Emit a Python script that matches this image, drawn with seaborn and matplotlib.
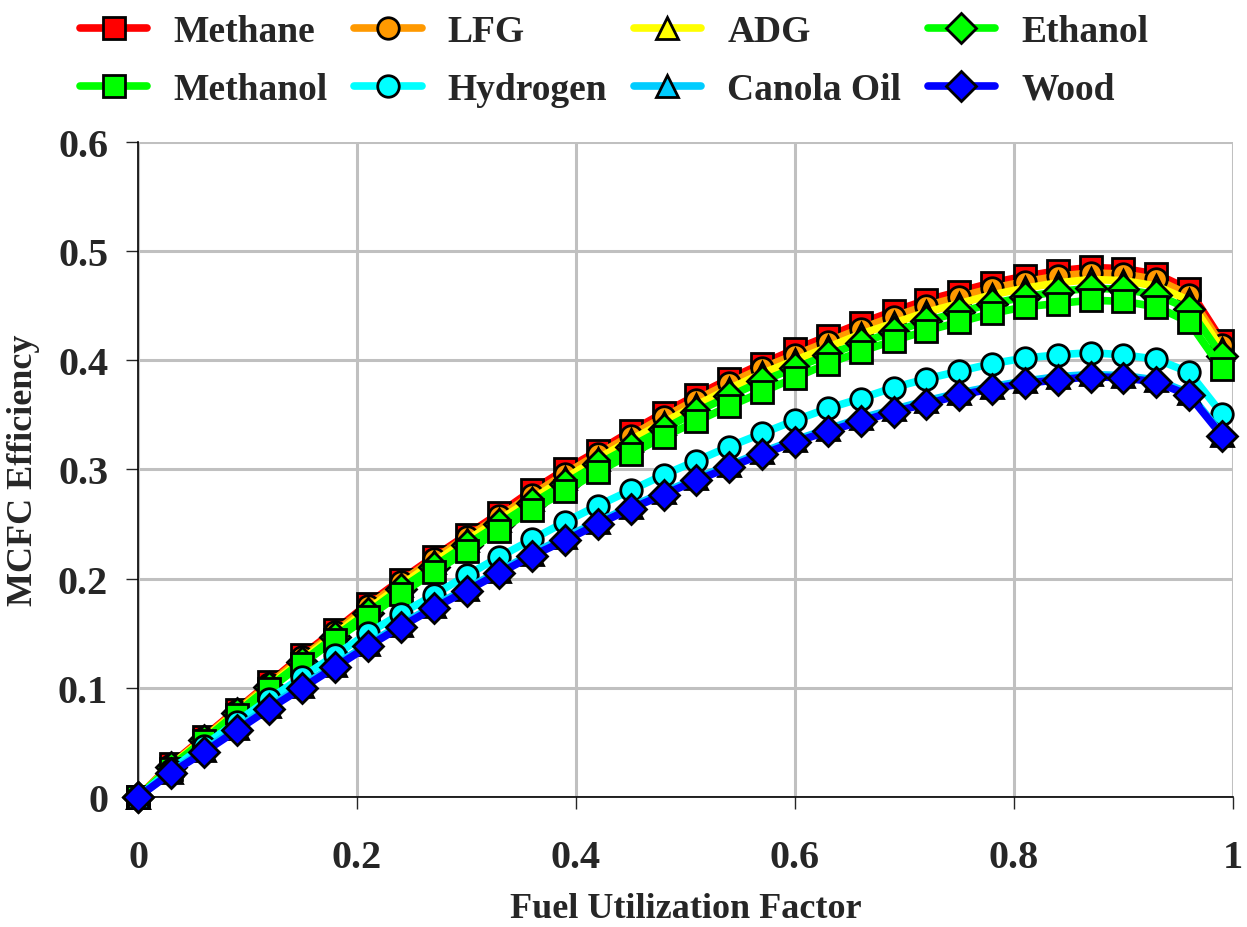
import pandas as pd
import seaborn as sns
import matplotlib.pyplot as plt

# fuel utilization factor (x axis)
utilization = [0.00, 0.03, 0.06, 0.09, 0.12, 0.15, 0.18, 0.21, 0.24, 0.27,
               0.30, 0.33, 0.36, 0.39, 0.42, 0.45, 0.48, 0.51, 0.54, 0.57,
               0.60, 0.63, 0.66, 0.69, 0.72, 0.75, 0.78, 0.81, 0.84, 0.87,
               0.90, 0.93, 0.96, 0.99]

# MCFC efficiency per fuel
methane = [0, 0.030, 0.055, 0.080, 0.105, 0.130, 0.153, 0.177, 0.199, 0.220,
           0.240, 0.260, 0.281, 0.300, 0.317, 0.335, 0.352, 0.368, 0.383, 0.397,
           0.410, 0.422, 0.434, 0.445, 0.455, 0.463, 0.471, 0.477, 0.482, 0.485,
           0.484, 0.479, 0.465, 0.418]
lfg = [0, 0.029, 0.054, 0.079, 0.104, 0.128, 0.151, 0.175, 0.197, 0.218,
       0.238, 0.257, 0.277, 0.296, 0.314, 0.331, 0.348, 0.364, 0.379, 0.393,
       0.405, 0.417, 0.429, 0.440, 0.450, 0.458, 0.466, 0.472, 0.477, 0.480,
       0.479, 0.474, 0.460, 0.414]
adg = [0, 0.029, 0.053, 0.078, 0.102, 0.126, 0.149, 0.172, 0.194, 0.215,
       0.235, 0.254, 0.273, 0.292, 0.310, 0.327, 0.343, 0.359, 0.374, 0.388,
       0.400, 0.412, 0.424, 0.434, 0.444, 0.452, 0.460, 0.466, 0.471, 0.474,
       0.473, 0.468, 0.455, 0.410]
ethanol = [0, 0.028, 0.052, 0.077, 0.101, 0.124, 0.147, 0.169, 0.191, 0.211,
           0.231, 0.250, 0.269, 0.287, 0.305, 0.321, 0.337, 0.353, 0.367, 0.381,
           0.393, 0.405, 0.416, 0.426, 0.436, 0.444, 0.452, 0.458, 0.463, 0.466,
           0.465, 0.460, 0.447, 0.404]
methanol = [0, 0.026, 0.051, 0.075, 0.099, 0.122, 0.144, 0.165, 0.186, 0.206,
            0.225, 0.244, 0.263, 0.280, 0.298, 0.314, 0.330, 0.344, 0.358, 0.371,
            0.384, 0.397, 0.408, 0.418, 0.427, 0.435, 0.443, 0.449, 0.452, 0.455,
            0.454, 0.449, 0.435, 0.392]
hydrogen = [0, 0.025, 0.047, 0.069, 0.090, 0.110, 0.130, 0.150, 0.168, 0.185,
            0.203, 0.220, 0.236, 0.252, 0.267, 0.281, 0.295, 0.308, 0.321, 0.333,
            0.345, 0.356, 0.365, 0.375, 0.383, 0.390, 0.397, 0.402, 0.405, 0.407,
            0.405, 0.401, 0.389, 0.351]
canola = [0, 0.023, 0.043, 0.063, 0.083, 0.102, 0.121, 0.140, 0.158, 0.175,
          0.191, 0.207, 0.223, 0.238, 0.252, 0.266, 0.279, 0.292, 0.304, 0.316,
          0.327, 0.337, 0.347, 0.355, 0.363, 0.370, 0.376, 0.381, 0.385, 0.387,
          0.386, 0.382, 0.370, 0.332]
wood = [0, 0.022, 0.041, 0.061, 0.081, 0.100, 0.119, 0.138, 0.156, 0.173,
        0.189, 0.205, 0.221, 0.235, 0.250, 0.264, 0.277, 0.290, 0.302, 0.314,
        0.325, 0.335, 0.344, 0.353, 0.360, 0.368, 0.374, 0.379, 0.382, 0.385,
        0.384, 0.380, 0.368, 0.331]

fuels = ['Methane', 'LFG', 'ADG', 'Ethanol', 'Methanol', 'Hydrogen', 'Canola Oil', 'Wood']
series = [methane, lfg, adg, ethanol, methanol, hydrogen, canola, wood]
colors = ['#FF0000', '#FF9900', '#FFFF00', '#00FF00', '#00FF00', '#00FFFF', '#00CCFF', '#0000FF']
markers = ['s', 'o', '^', 'D', 's', 'o', '^', 'D']

sns.set_style('white')
plt.rcParams['font.family'] = ['Liberation Serif', 'DejaVu Serif']
plt.rcParams['font.weight'] = 'bold'

fig = plt.figure(figsize=(12.47, 9.28), dpi=100)
ax = fig.add_axes([0.1107, 0.140, 0.878, 0.706])

for name, vals, col, mk in zip(fuels, series, colors, markers):
    df = pd.DataFrame({'x': utilization, 'y': vals})
    sns.lineplot(data=df, x='x', y='y', ax=ax, color=col, linewidth=5.5,
                 marker=mk, markersize=15.5, markerfacecolor=col,
                 markeredgecolor='black', markeredgewidth=2, label=name,
                 clip_on=False, solid_capstyle='round')

ax.set_xlim(0, 1)
ax.set_ylim(0, 0.6)
ax.set_xticks([0, 0.2, 0.4, 0.6, 0.8, 1.0])
ax.set_xticklabels(['0', '0.2', '0.4', '0.6', '0.8', '1'])
ax.set_yticks([0, 0.1, 0.2, 0.3, 0.4, 0.5, 0.6])
ax.set_yticklabels(['0', '0.1', '0.2', '0.3', '0.4', '0.5', '0.6'])
ax.grid(True, color='#C0C0C0', linewidth=2.2)
ax.set_axisbelow(True)
for s in ['top', 'right']:
    ax.spines[s].set_visible(False)
for s in ['left', 'bottom']:
    ax.spines[s].set_color('black')
    ax.spines[s].set_linewidth(1.2)
    ax.spines[s].set_zorder(1)
ax.tick_params(axis='x', direction='out', length=8.5, width=1, labelsize=29, pad=22)
ax.tick_params(axis='y', direction='out', length=8.5, width=1, labelsize=29, pad=13)
ax.tick_params(bottom=True, left=True)
ax.set_xlabel('Fuel Utilization Factor', fontsize=26, fontweight='bold', labelpad=11)
ax.set_ylabel('MCFC Efficiency', fontsize=26, fontweight='bold', labelpad=13)

handles, labels = ax.get_legend_handles_labels()
ax.get_legend().remove()
# legend fills column by column, reorder so it reads row by row
order = [0, 4, 1, 5, 2, 6, 3, 7]
fig.legend([handles[i] for i in order], [labels[i] for i in order],
           loc='upper left', bbox_to_anchor=(0.037, 1.02), ncol=4,
           frameon=False, handlelength=1.8, handletextpad=0.7,
           columnspacing=0.7, labelspacing=0.6, prop={'weight': 'bold', 'size': 27})

fig.savefig('out.png', dpi=100)
